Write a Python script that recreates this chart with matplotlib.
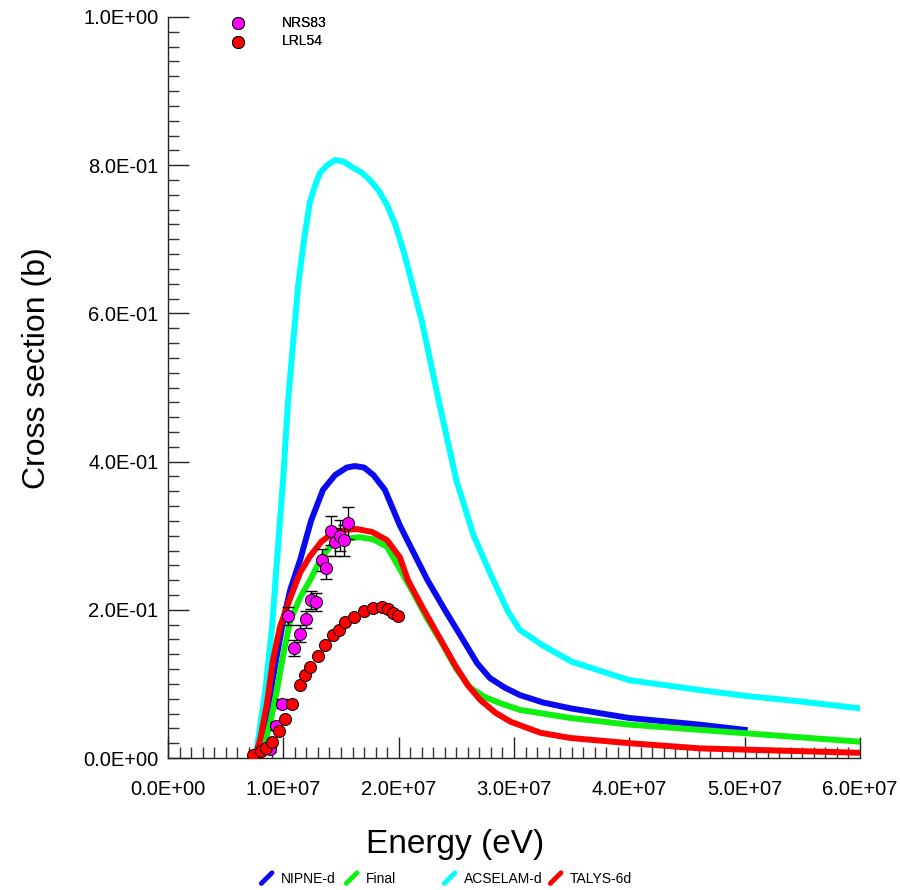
import matplotlib
matplotlib.use("Agg")
import matplotlib.pyplot as plt
from matplotlib.lines import Line2D
from matplotlib.legend_handler import HandlerBase
from matplotlib.ticker import MultipleLocator, FuncFormatter

plt.rcParams['font.family'] = ['Liberation Sans', 'DejaVu Sans']
NARROW = ['Liberation Sans Narrow', 'Liberation Sans', 'DejaVu Sans']

# ---- data (energy in eV, cross section in b) ----
acselam_E = [7.4e6, 7.72e6, 8.41e6, 9.02e6, 9.45e6, 1.0e7, 1.04e7, 1.09e7, 1.13e7, 1.18e7,
             1.23e7, 1.28e7, 1.32e7, 1.38e7, 1.45e7, 1.52e7, 1.6e7, 1.68e7, 1.75e7, 1.83e7,
             1.9e7, 1.97e7, 2.05e7, 2.2e7, 2.35e7, 2.5e7, 2.65e7, 2.8e7, 2.95e7, 3.05e7,
             3.25e7, 3.5e7, 4.0e7, 4.6e7, 5.0e7, 5.5e7, 6.0e7]
acselam_s = [0.0, 0.015, 0.088, 0.176, 0.267, 0.38, 0.48, 0.57, 0.64, 0.70,
             0.75, 0.775, 0.79, 0.80, 0.807, 0.805, 0.797, 0.79, 0.78, 0.765,
             0.746, 0.72, 0.68, 0.59, 0.48, 0.375, 0.30, 0.247, 0.197, 0.173,
             0.152, 0.13, 0.105, 0.092, 0.084, 0.076, 0.067]

nipne_E = [7.6e6, 8.2e6, 8.8e6, 9.4e6, 1.0e7, 1.06e7, 1.145e7, 1.24e7, 1.344e7, 1.45e7,
           1.55e7, 1.62e7, 1.70e7, 1.78e7, 1.88e7, 2.01e7, 2.12e7, 2.25e7, 2.4e7, 2.56e7,
           2.68e7, 2.79e7, 2.92e7, 3.05e7, 3.25e7, 3.49e7, 4.0e7, 4.61e7, 5.0e7]
nipne_s = [0.0, 0.03, 0.08, 0.135, 0.186, 0.227, 0.267, 0.32, 0.362, 0.382,
           0.392, 0.394, 0.392, 0.382, 0.362, 0.314, 0.28, 0.24, 0.20, 0.159,
           0.128, 0.108, 0.095, 0.085, 0.075, 0.067, 0.054, 0.045, 0.038]

final_E = [7.8e6, 8.4e6, 8.9e6, 9.5e6, 1.0e7, 1.06e7, 1.15e7, 1.232e7, 1.33e7, 1.431e7,
           1.55e7, 1.665e7, 1.78e7, 1.899e7, 2.01e7, 2.12e7, 2.24e7, 2.36e7, 2.5e7, 2.62e7,
           2.75e7, 2.88e7, 3.05e7, 3.49e7, 4.0e7, 4.61e7, 5.3e7, 6.0e7]
final_s = [0.0, 0.02, 0.05, 0.096, 0.14, 0.186, 0.218, 0.24, 0.27, 0.29,
           0.296, 0.298, 0.295, 0.285, 0.255, 0.225, 0.19, 0.159, 0.12, 0.095,
           0.082, 0.074, 0.065, 0.054, 0.045, 0.038, 0.03, 0.022]

talys_E = [7.5e6, 7.98e6, 8.59e6, 9.1e6, 9.71e6, 1.06e7, 1.145e7, 1.23e7, 1.33e7, 1.431e7,
           1.55e7, 1.639e7, 1.77e7, 1.899e7, 2.01e7, 2.08e7, 2.2e7, 2.33e7, 2.49e7, 2.6e7,
           2.71e7, 2.84e7, 2.97e7, 3.23e7, 3.49e7, 4.0e7, 4.61e7, 5.3e7, 6.0e7]
talys_s = [0.0, 0.024, 0.074, 0.132, 0.177, 0.216, 0.25, 0.272, 0.292, 0.304,
           0.308, 0.309, 0.305, 0.294, 0.271, 0.24, 0.205, 0.169, 0.125, 0.098,
           0.078, 0.061, 0.049, 0.034, 0.027, 0.020, 0.013, 0.010, 0.007]

nrs83_E = [8.85e6, 9.34e6, 9.91e6, 1.043e7, 1.093e7, 1.145e7, 1.197e7, 1.243e7, 1.286e7,
           1.333e7, 1.370e7, 1.410e7, 1.450e7, 1.487e7, 1.530e7, 1.559e7]
nrs83_s = [0.012, 0.043, 0.073, 0.192, 0.148, 0.168, 0.187, 0.213, 0.210,
           0.267, 0.257, 0.307, 0.291, 0.300, 0.294, 0.317]
nrs83_err = [0.004, 0.005, 0.006, 0.012, 0.011, 0.011, 0.012, 0.012, 0.012,
             0.015, 0.016, 0.020, 0.019, 0.021, 0.021, 0.022]

lrl54_E = [7.35e6, 8.04e6, 8.5e6, 8.99e6, 9.63e6, 1.015e7, 1.078e7, 1.148e7, 1.191e7,
           1.234e7, 1.301e7, 1.364e7, 1.431e7, 1.480e7, 1.535e7, 1.613e7, 1.70e7,
           1.781e7, 1.853e7, 1.908e7, 1.954e7, 1.992e7]
lrl54_s = [0.004, 0.009, 0.013, 0.021, 0.036, 0.053, 0.073, 0.098, 0.112,
           0.123, 0.138, 0.152, 0.166, 0.173, 0.183, 0.190, 0.198,
           0.202, 0.204, 0.201, 0.196, 0.192]

# ---- figure ----
fig = plt.figure(figsize=(9, 8.9), dpi=100)
ax = fig.add_axes([168/900, 1-758/890, (860-168)/900, (758-17)/890])

lw = 4.3
l_nipne, = ax.plot(nipne_E, nipne_s, color='#0a0af0', lw=lw, solid_joinstyle='round', zorder=3)
l_final, = ax.plot(final_E, final_s, color='#10f010', lw=lw, solid_joinstyle='round', zorder=3)
l_acs, = ax.plot(acselam_E, acselam_s, color='#00ffff', lw=lw, solid_joinstyle='round', zorder=2)
l_tal, = ax.plot(talys_E, talys_s, color='#ff0000', lw=lw, solid_joinstyle='round', zorder=4)

ax.errorbar(nrs83_E, nrs83_s, yerr=nrs83_err, fmt='none', ecolor='black', elinewidth=1,
            capsize=4.5, capthick=1, zorder=5)
p_nrs = ax.scatter(nrs83_E, nrs83_s, s=75, c='#ff00ff', edgecolors='black', linewidths=0.7, zorder=6)
p_lrl = ax.scatter(lrl54_E, lrl54_s, s=75, c='#ff0000', edgecolors='black', linewidths=0.7, zorder=6)

ax.set_xlim(0, 6e7)
ax.set_ylim(0, 1.0)
ax.xaxis.set_major_locator(MultipleLocator(1e7))
ax.xaxis.set_minor_locator(MultipleLocator(1e6))
ax.yaxis.set_major_locator(MultipleLocator(0.2))
ax.yaxis.set_minor_locator(MultipleLocator(0.02))
fmt = FuncFormatter(lambda v, p: "{:.1E}".format(v))
ax.xaxis.set_major_formatter(fmt)
ax.yaxis.set_major_formatter(fmt)
for s in ['top', 'right']:
    ax.spines[s].set_visible(False)
for s in ['left', 'bottom']:
    ax.spines[s].set_linewidth(1.0)
    ax.spines[s].set_color('#222222')
ax.tick_params(which='major', direction='in', length=15, width=1, color='#222222',
               labelsize=14.5)
ax.tick_params(which='minor', direction='in', length=8, width=1, color='#333333')
ax.tick_params(axis='x', which='major', pad=16)
ax.tick_params(axis='y', which='major', pad=7)

ax.set_xlabel('Energy (eV)', fontsize=24)
ax.xaxis.set_label_coords((455-168)/692, (758-829)/741)
ax.set_ylabel('Cross section (b)', fontsize=23)
ax.yaxis.set_label_coords((52-168)/692, (758-368)/741)

# top legend (experimental data)
leg1 = ax.legend([p_nrs, p_lrl], ['NRS83', 'LRL54'], loc='upper left',
                 bbox_to_anchor=(224/900, 1-16/890), bbox_transform=fig.transFigure,
                 frameon=False, borderpad=0, borderaxespad=0, handlelength=2.0,
                 handletextpad=2.2, labelspacing=0.3, scatterpoints=1,
                 prop={'family': NARROW, 'size': 10})
ax.add_artist(leg1)


class DiagHandler(HandlerBase):
    def create_artists(self, legend, orig_handle, xdescent, ydescent, width, height,
                       fontsize, trans):
        ln = Line2D([-xdescent + 0.15 * width, -xdescent + 0.85 * width],
                    [-ydescent - 0.05 * height, -ydescent + 1.05 * height],
                    color=orig_handle.get_color(), lw=3.5, solid_capstyle='round',
                    transform=trans)
        return [ln]


items = [(l_nipne, 'NIPNE-d', 259), (l_final, 'Final', 344),
         (l_acs, 'ACSELAM-d', 442), (l_tal, 'TALYS-6d', 548)]
for h, lab, xpx in items:
    lg = fig.legend([h], [lab], loc='center left', bbox_to_anchor=(xpx/900, 1-879/890),
                    frameon=False, borderpad=0, borderaxespad=0, handlelength=1.1,
                    handletextpad=0.45, handler_map={Line2D: DiagHandler()},
                    prop={'family': NARROW, 'size': 10})

fig.savefig('out.png', dpi=100, facecolor='white')
